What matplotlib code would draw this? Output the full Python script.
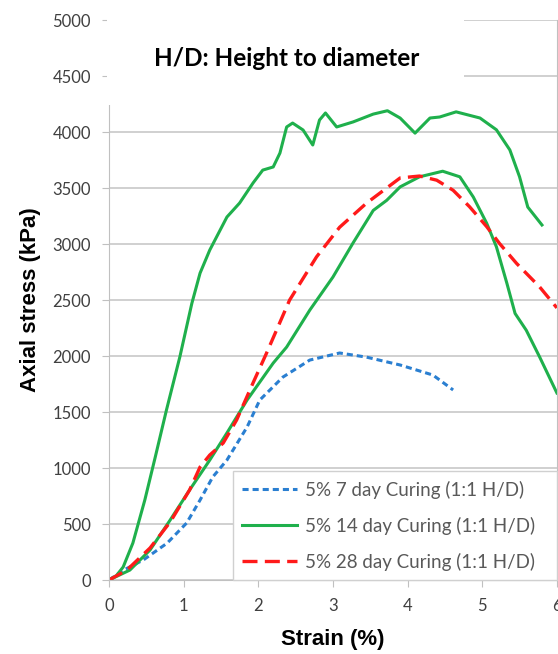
import matplotlib.pyplot as plt
from matplotlib.patches import Rectangle

# strain (%) / axial stress (kPa)
strain_7 = [0, 0.2, 0.46, 0.78, 1.04, 1.22, 1.39, 1.58, 1.85, 2.02, 2.33, 2.69, 3.09, 3.45, 3.9, 4.34, 4.61]
stress_7 = [0, 90, 179, 330, 509, 714, 920, 1071, 1366, 1607, 1812, 1964, 2027, 1990, 1920, 1830, 1697]

strain_14a = [0, 0.1, 0.19, 0.32, 0.48, 0.62, 0.77, 0.95, 1.11, 1.22, 1.35, 1.58, 1.75, 1.93, 2.06, 2.2,
              2.29, 2.38, 2.46, 2.6, 2.73, 2.82, 2.9, 3.05, 3.27, 3.54, 3.73, 3.9, 4.1, 4.3, 4.43, 4.65,
              4.97, 5.19, 5.37, 5.5, 5.61, 5.8]
stress_14a = [0, 40, 116, 330, 714, 1098, 1518, 1994, 2470, 2740, 2946, 3241, 3366, 3545, 3660, 3688,
              3812, 4045, 4080, 4018, 3884, 4107, 4170, 4045, 4090, 4160, 4190, 4125, 3990, 4125, 4134, 4180,
              4125, 4020, 3840, 3600, 3330, 3170]

strain_14b = [0, 0.28, 0.55, 0.82, 1.08, 1.35, 1.58, 1.85, 2.2, 2.38, 2.69, 3.0, 3.27, 3.54, 3.72, 3.9,
              4.16, 4.47, 4.7, 4.88, 5.06, 5.19, 5.33, 5.44, 5.59, 5.77, 6.0]
stress_14b = [0, 89, 268, 536, 804, 1071, 1313, 1607, 1937, 2080, 2410, 2705, 3010, 3300, 3390, 3510,
              3600, 3650, 3600, 3420, 3185, 2975, 2650, 2380, 2230, 1990, 1670]

strain_28 = [0, 0.24, 0.55, 0.82, 1.08, 1.22, 1.35, 1.53, 1.71, 1.93, 2.11, 2.42, 2.78, 3.09, 3.45,
             3.9, 4.16, 4.39, 4.61, 4.83, 5.06, 5.23, 5.46, 5.77, 6.0]
stress_28 = [0, 89, 286, 518, 804, 1009, 1116, 1223, 1429, 1760, 2025, 2500, 2885, 3150, 3365,
             3590, 3607, 3570, 3480, 3333, 3155, 3006, 2827, 2616, 2430]

labels = ["5% 7 day Curing (1:1 H/D)", "5% 14 day Curing (1:1 H/D)", "5% 28 day Curing (1:1 H/D)"]
xticks = [0, 1, 2, 3, 4, 5, 6]
yticks = list(range(0, 5001, 500))

fig = plt.figure(figsize=(5.58, 6.54), dpi=100)
ax = fig.add_axes([0.1953, 0.1131, 0.8027, 0.8563])

ax.plot(strain_7, stress_7, color='#2a7fd1', lw=2.2, ls=(0, (2, 1.3)), label=labels[0])
ax.plot(strain_14a, stress_14a, color='#1fb04c', lw=2.2, label=labels[1])
ax.plot(strain_14b, stress_14b, color='#1fb04c', lw=2.2)
ax.plot(strain_28, stress_28, color='#ff1a1a', lw=2.4, ls=(0, (4.5, 2.2)), label=labels[2])

ax.set_xlim(0, 6)
ax.set_ylim(0, 5000)
ax.set_xticks(xticks)
ax.set_yticks(yticks)
ax.grid(axis='y', color='#c8c8c8', lw=1.2)
ax.set_axisbelow(True)
for s in ax.spines.values():
    s.set_color('#c0c0c0')
ax.spines['top'].set_visible(False)
ax.tick_params(colors='#c0c0c0', labelcolor='#404040', labelsize=12, length=5, pad=8)
for t in ax.get_xticklabels() + ax.get_yticklabels():
    t.set_family('Lato')

ax.set_xlabel('Strain (%)', fontsize=16, fontweight='bold', family='Liberation Sans', labelpad=11)
ax.set_ylabel('Axial stress (kPa)', fontsize=16, fontweight='bold', family='Liberation Sans', labelpad=8)

# white box behind the title
ax.add_patch(Rectangle((-0.004, 0.848), 0.796, 0.2, transform=ax.transAxes, facecolor='white',
                       edgecolor='none', clip_on=False, zorder=3))
ax.text(0.1, 0.932, 'H/D: Height to diameter', transform=ax.transAxes, fontsize=17.5,
        fontweight='bold', family='Lato', va='center', zorder=4)

leg = ax.legend(loc='lower left', bbox_to_anchor=(0.277, 0.0, 0.723, 0.2), mode='expand',
                prop={'family': 'Lato', 'size': 13.5},
                handlelength=2.9, labelspacing=0.95, fancybox=False, framealpha=1,
                edgecolor='#d0d0d0', borderpad=0.5, handletextpad=0.45, borderaxespad=0)
for t in leg.get_texts():
    t.set_color('#595959')

plt.savefig('out.png')
